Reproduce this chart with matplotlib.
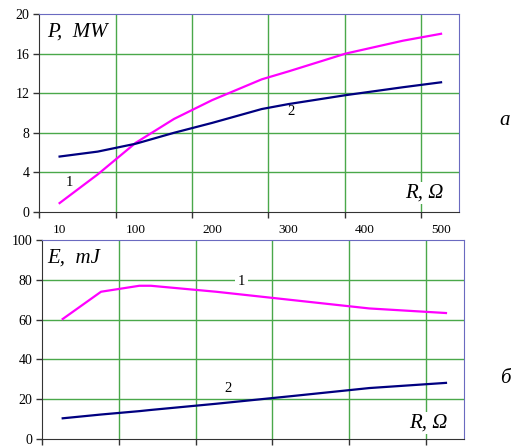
import matplotlib
matplotlib.use("Agg")
import matplotlib.pyplot as plt
import numpy as np

# category labels of the R axis (equal spacing on the chart)
r_cats = [10, 100, 200, 300, 400, 500]

# (a) power P, MW
p_r = [10, 55, 100, 150, 200, 265, 300, 375, 450, 500]
p1 = [0.9, 3.8, 7.0, 9.4, 11.3, 13.4, 14.2, 16.0, 17.3, 18.0]
p2 = [5.6, 6.1, 6.9, 8.0, 9.0, 10.4, 10.9, 11.8, 12.6, 13.1]

# (б) energy E, mJ
e_r = [10, 55, 100, 115, 200, 300, 400, 500]
e1 = [60.3, 74.0, 77.0, 77.0, 74.0, 69.8, 65.6, 63.3]
e2 = [10.4, 12.3, 14.0, 14.6, 17.7, 21.6, 25.6, 28.2]

plt.rcParams['font.family'] = ['Liberation Serif', 'DejaVu Serif']


def upos(r):
    # R value -> position on the (non-linear) category axis
    return np.interp(r, r_cats, np.arange(len(r_cats)))


fig = plt.figure(figsize=(5.11, 4.48), dpi=100)
ax1 = fig.add_axes([0.0763, 0.5268, 0.8219, 0.4420])
ax2 = fig.add_axes([0.0822, 0.0201, 0.8258, 0.4442])

grid_c = '#4aa84a'
frame_c = '#6a6ac0'
gx = [k - 0.265 for k in range(0, 6)]


def style(ax, ymax, ystep, labels):
    ax.set_xlim(-0.27, 5.235)
    ax.set_ylim(0, ymax)
    ax.set_xticks(gx)
    ax.set_xticklabels([])
    ax.set_yticks(np.arange(0, ymax + 1, ystep))
    for x in gx[1:]:
        ax.axvline(x, color=grid_c, lw=1.0, zorder=1)
    for y in np.arange(ystep, ymax, ystep):
        ax.axhline(y, color=grid_c, lw=1.0, zorder=1)
    ax.tick_params(axis='both', direction='out', length=4, width=1,
                   color='#333333', labelsize=10, pad=3)
    ax.spines['left'].set_color('#333333')
    ax.spines['bottom'].set_color('#333333')
    ax.spines['top'].set_color(frame_c)
    ax.spines['right'].set_color(frame_c)
    if labels:
        ax.set_xticks(range(len(r_cats)), minor=True)
        ax.set_xticklabels([str(r) for r in r_cats], minor=True)
        ax.tick_params(axis='x', which='minor', length=0, labelsize=9.5, pad=9)


style(ax1, 20, 4, True)
ax1.plot(upos(p_r), p1, color='#ff00ff', lw=1.6, zorder=3)
ax1.plot(upos(p_r), p2, color='#000080', lw=1.6, zorder=3)
ax1.text(0.019, 0.909, 'P,  MW', transform=ax1.transAxes, fontsize=15,
         style='italic', va='center', ha='left')
ax1.text(0.962, 0.096, 'R, Ω', transform=ax1.transAxes, fontsize=15,
         style='italic', va='center', ha='right',
         bbox=dict(facecolor='white', edgecolor='none', pad=1), zorder=4)
ax1.text(0.13, 3.0, '1', fontsize=10.5, ha='center', va='center')
ax1.text(3.03, 10.1, '2', fontsize=10.5, ha='center', va='center')

style(ax2, 100, 20, False)
ax2.plot(upos(e_r), e1, color='#ff00ff', lw=1.6, zorder=3)
ax2.plot(upos(e_r), e2, color='#000080', lw=1.6, zorder=3)
ax2.text(0.012, 0.91, 'E,  mJ', transform=ax2.transAxes, fontsize=15,
         style='italic', va='center', ha='left')
ax2.text(0.962, 0.08, 'R, Ω', transform=ax2.transAxes, fontsize=15,
         style='italic', va='center', ha='right',
         bbox=dict(facecolor='white', edgecolor='none', pad=1), zorder=4)
ax2.text(2.33, 79, '1', fontsize=10.5, ha='center', va='center',
         bbox=dict(facecolor='white', edgecolor='none', pad=2), zorder=4)
ax2.text(2.16, 25.6, '2', fontsize=10.5, ha='center', va='center')

fig.text(0.988, 0.732, 'а', fontsize=15, style='italic', ha='center', va='center')
fig.text(0.988, 0.156, 'б', fontsize=15, style='italic', ha='center', va='center')

fig.savefig('out.png', dpi=100)
